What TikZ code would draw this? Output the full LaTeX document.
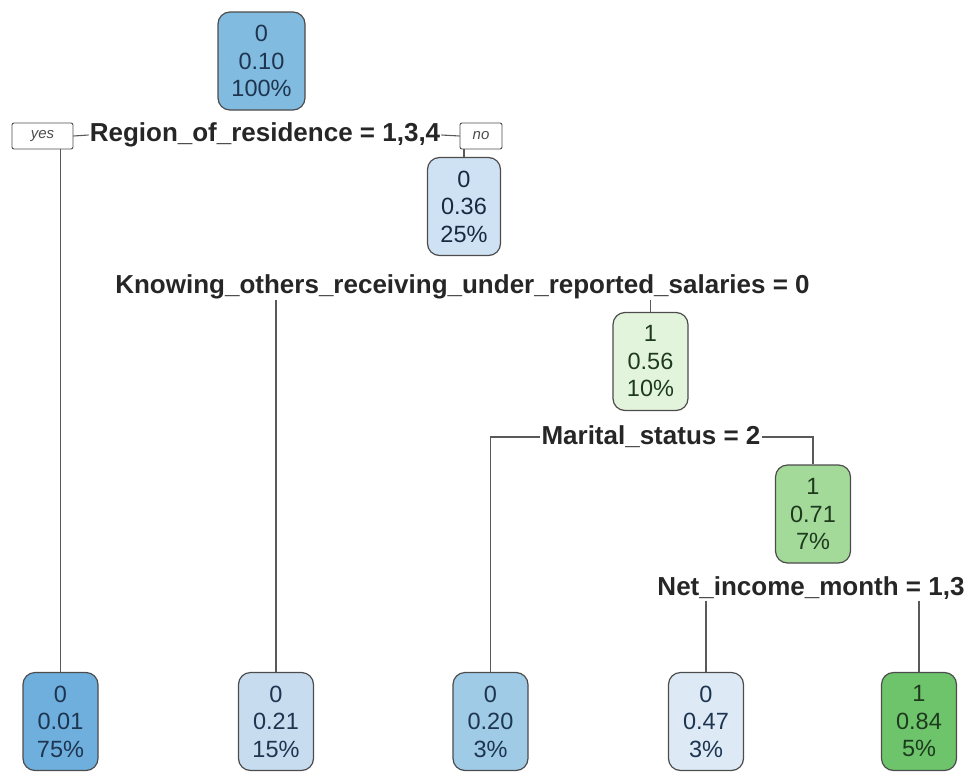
\documentclass[tikz,border=0pt]{standalone}
\usepackage{fontspec}
\setmainfont{Liberation Sans}
\begin{document}
\begin{tikzpicture}[x=1pt,y=-1pt,
  box/.style={draw=black!70, line width=1.2pt, rounded corners=12pt, minimum width=75pt, minimum height=98pt,
    inner xsep=12pt, align=center, font=\fontsize{23.5}{27.5}\selectfont},
  lbl/.style={font=\fontsize{26}{28}\selectfont\bfseries, text=black!85, inner sep=1pt},
  yn/.style={draw=black!70, line width=0.9pt, rounded corners=2pt, font=\fontsize{15}{16}\selectfont\itshape, text=black!70, minimum height=26pt, inner sep=2pt},
  conn/.style={draw=black!65, line width=1.1pt}]
\useasboundingbox (0,0) rectangle (967,774);
\definecolor{cRoot}{HTML}{82BBE0}
\definecolor{cA}{HTML}{6EAFDD}
\definecolor{cB}{HTML}{CFE2F3}
\definecolor{cC}{HTML}{C8DCF0}
\definecolor{cD}{HTML}{9FCBE7}
\definecolor{cE}{HTML}{DDEAF6}
\definecolor{cF}{HTML}{E3F4DD}
\definecolor{cG}{HTML}{A4DA99}
\definecolor{cH}{HTML}{6DC46B}
\definecolor{tBlue}{HTML}{1E3550}
\definecolor{tGreen}{HTML}{1E3A1E}
% nodes
\node[box, fill=cRoot, text=tBlue, minimum width=87pt] (root) at (261.5,61) {0\\0.10\\100\%};
\node[lbl] (s1) at (265,135) {Region\_of\_residence = 1,3,4};
\node[yn, minimum width=61pt] (yes) at (42.5,136) {yes};
\node[yn, minimum width=42pt] (no) at (481,136) {no};
\node[box, fill=cB, text=tBlue!80!black, minimum width=73pt] (n2) at (464,206.5) {0\\0.36\\25\%};
\node[lbl] (s2) at (462.5,287) {Knowing\_others\_receiving\_under\_reported\_salaries = 0};
\node[box, fill=cF, text=tGreen] (n3) at (650.5,361.5) {1\\0.56\\10\%};
\node[lbl] (s3) at (651,437) {Marital\_status = 2};
\node[box, fill=cG, text=tGreen] (n4) at (813,514) {1\\0.71\\7\%};
\node[lbl] (s4) at (811,588) {Net\_income\_month = 1,3};
\node[box, fill=cA, text=tBlue] (l1) at (60.5,721.5) {0\\0.01\\75\%};
\node[box, fill=cC, text=tBlue] (l2) at (276,721.5) {0\\0.21\\15\%};
\node[box, fill=cD, text=tBlue] (l3) at (490.5,721.5) {0\\0.20\\3\%};
\node[box, fill=cE, text=tBlue] (l4) at (706,721.5) {0\\0.47\\3\%};
\node[box, fill=cH, text=tGreen] (l5) at (919,721.5) {1\\0.84\\5\%};
% connectors
\draw[conn] (yes.east) -- (s1.west);
\draw[conn] (s1.east) -- (no.west);
\draw[conn] (yes.south -| l1.north) -- (l1.north);
\draw[conn] (no.south -| n2.north) -- (n2.north);
\draw[conn] (s2.south -| l2.north) -- (l2.north);
\draw[conn] (s2.south -| n3.north) -- (n3.north);
\coordinate (c3l) at (s3.west -| l3.north);
\coordinate (c3r) at (s3.east -| n4.north);
\draw[conn] (s3.west) -- (c3l) -- (l3.north);
\draw[conn] (s3.east) -- (c3r) -- (n4.north);
\draw[conn] (s4.south -| l4.north) -- (l4.north);
\draw[conn] (s4.south -| l5.north) -- (l5.north);
\end{tikzpicture}
\end{document}
